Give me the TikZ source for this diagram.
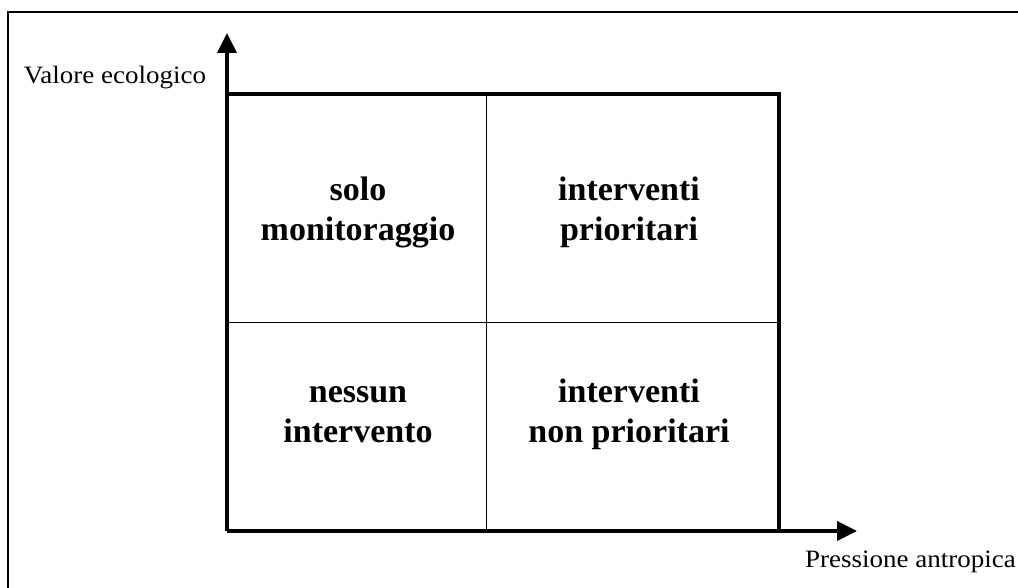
\documentclass[tikz,border=0pt]{standalone}
\usepackage{fontspec}
\setmainfont{Liberation Serif}
\newfontfamily\lblfont[FakeStretch=1.08]{Liberation Serif}
\usetikzlibrary{arrows.meta}
\tikzset{
  axisline/.style={line width=4pt, -{Triangle[length=20pt,width=19pt]}},
  boxline/.style={line width=4pt, line join=miter},
  thinline/.style={line width=1pt},
  celltext/.style={align=center, anchor=base, font=\bfseries\fontsize{34}{40}\selectfont},
  axislabel/.style={font=\lblfont\fontsize{25}{30}\selectfont, inner sep=0pt}
}
\begin{document}
\begin{tikzpicture}[x=1pt,y=-1pt]
\useasboundingbox (0,0) rectangle (1018,588);
\clip (0,0) rectangle (1018,588);
\fill[white] (0,0) rectangle (1018,588);
% outer frame
\draw[line width=2pt] (8,12) rectangle (1040,610);
% corners
\coordinate (O) at (227,531);
\coordinate (Ytip) at (227,33);
\coordinate (Xtip) at (857,531);
\coordinate (TL) at (227,94);
\coordinate (TR) at (779,94);
\coordinate (BR) at (779,531);
\coordinate (Mtop) at (486,94);
\coordinate (Mbot) at (486,531);
\coordinate (Mleft) at (227,322);
\coordinate (Mright) at (779,322);
% box
\draw[boxline] (TL) -- (TR) -- (BR);
\draw[thinline] (Mtop) -- (Mbot);
\draw[thinline] (Mleft) -- (Mright);
% axes
\draw[axisline] (O) -- (Ytip);
\draw[axisline] (O) -- (Xtip);
% labels
\node[axislabel, anchor=base] (ylab) at (115,84) {Valore ecologico};
\node[axislabel, anchor=base east] (xlab) at (1016,567) {Pressione antropica};
% cells (base anchor = baseline of the last line)
\node[celltext] (c1) at (358,241) {solo\\monitoraggio};
\node[celltext] (c2) at (629,241) {interventi\\prioritari};
\node[celltext] (c3) at (358,442) {nessun\\intervento};
\node[celltext] (c4) at (629,442) {interventi\\non prioritari};
\end{tikzpicture}
\end{document}
